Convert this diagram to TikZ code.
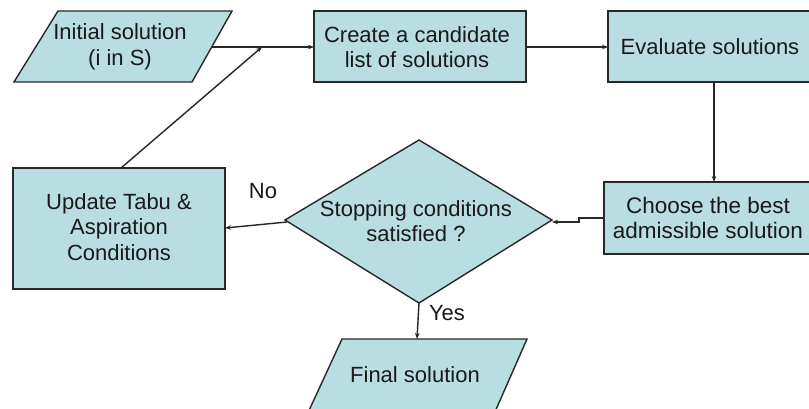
\documentclass[tikz,border=0pt]{standalone}
\usepackage{fontspec}
\setmainfont{Liberation Sans}
\usetikzlibrary{arrows.meta}
\definecolor{boxfill}{RGB}{184,222,226}
\definecolor{boxline}{RGB}{40,40,40}
\tikzset{
  shapebox/.style={draw=boxline, fill=boxfill, line width=1.4pt},
  label/.style={font=\fontsize{22}{25.5}\selectfont, align=center, inner sep=0pt, text=black!90},
  flow/.style={draw=black!85, line width=1.4pt, -{Stealth[length=6pt,width=4.5pt]}}
}
\begin{document}
\begin{tikzpicture}[x=1pt,y=-1pt]
\useasboundingbox (0,0) rectangle (809,409);
\fill[white] (0,0) rectangle (809,409);
\clip (0,0) rectangle (809,409);

% input: initial solution
\draw[shapebox] (58,11) -- (232,11) -- (192,82) -- (14,82) -- cycle;
\node[label] (init) at (120,47) {Initial solution\\(i in S)};
\coordinate (initR) at (212,47);

% candidate list
\draw[shapebox] (314,11) rectangle (526,82);
\node[label] (create) at (417,47) {Create a candidate\\list of solutions};
\coordinate (createL) at (314,47);
\coordinate (createR) at (526,47);

% evaluation
\draw[shapebox] (608,11) rectangle (830,82);
\node[label] (eval) at (710,47) {Evaluate solutions};
\coordinate (evalL) at (608,47);
\coordinate (evalB) at (714,82);

% choose best
\draw[shapebox] (604,182) rectangle (830,254);
\node[label, font=\fontsize{22.5}{25.5}\selectfont] (choose) at (708,218) {Choose the best\\admissible solution};
\coordinate (chooseT) at (714,182);
\coordinate (chooseL) at (604,218);

% decision
\draw[shapebox] (285,220) -- (419,140) -- (552,220) -- (419,303) -- cycle;
\node[label] (stop) at (416,221) {Stopping conditions\\satisfied ?};
\coordinate (stopR) at (552,222);
\coordinate (stopL) at (287,222);
\coordinate (stopB) at (419,303);

% update memory
\draw[shapebox] (13,168) rectangle (225,289);
\node[label] (update) at (119,227) {Update Tabu \&\\Aspiration\\Conditions};
\coordinate (updR) at (225,228);
\coordinate (updT) at (121,168);

% output: final solution
\draw[shapebox] (342,339) -- (527,339) -- (487,430) -- (300,430) -- cycle;
\node[label] (final) at (415,375) {Final solution};
\coordinate (finalT) at (417,339);

% connectors
\coordinate (join) at (262,47);
\draw[flow] (initR) -- (createL);
\draw[flow] (updT) -- (join);
\draw[flow] (createR) -- (evalL);
\draw[flow] (evalB) -- (chooseT);
\draw[flow] (chooseL) -- (579,218) -- (579,222) -- (stopR);
\draw[flow] (stopL) -- (updR);
\draw[flow] (stopB) -- (finalT);

\node[label] (no) at (263,191) {No};
\node[label] (yes) at (447,313) {Yes};
\end{tikzpicture}
\end{document}
